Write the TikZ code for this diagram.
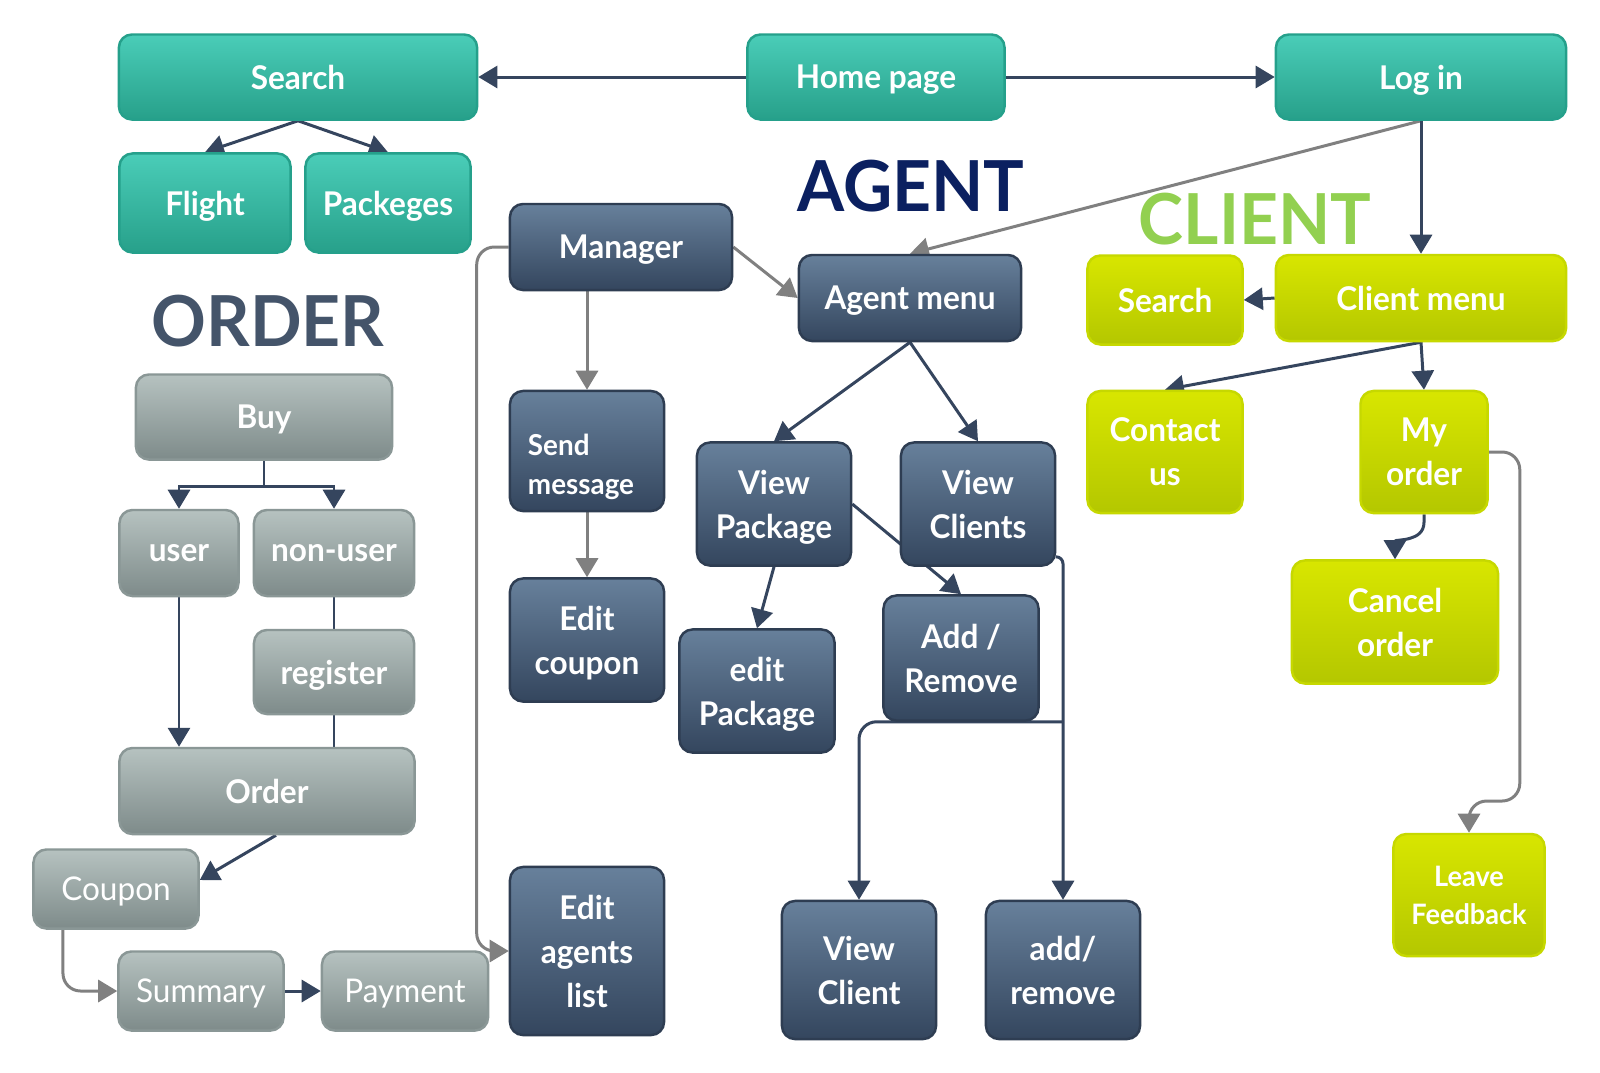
\documentclass[tikz,border=0pt]{standalone}
\usepackage{fontspec}
\setmainfont{Lato}[FakeStretch=0.965]
\usetikzlibrary{arrows.meta,positioning,calc,backgrounds}
\definecolor{tealtop}{HTML}{4ACDB8}
\definecolor{tealbot}{HTML}{27A08A}
\definecolor{tealedge}{HTML}{25A08B}
\definecolor{agttop}{HTML}{67809B}
\definecolor{agtbot}{HTML}{34465E}
\definecolor{agtedge}{HTML}{2E3D52}
\definecolor{clitop}{HTML}{D8E600}
\definecolor{clibot}{HTML}{B4C700}
\definecolor{cliedge}{HTML}{C6D800}
\definecolor{ordtop}{HTML}{B6C2C0}
\definecolor{ordbot}{HTML}{7E8B8A}
\definecolor{ordedge}{HTML}{8A9796}
\definecolor{linkdark}{HTML}{35455E}
\definecolor{linkgray}{HTML}{808080}
\definecolor{agentblue}{HTML}{0B2060}
\definecolor{clientgreen}{HTML}{92D050}
\definecolor{orderslate}{HTML}{44546A}
\tikzset{
  flowarr/.style={-{Triangle[length=1.9mm,width=2.2mm]}, line width=0.85pt, draw=linkdark},
  flowgray/.style={flowarr, draw=linkgray},
  flowline/.style={line width=0.85pt, draw=linkdark},
  flowbox/.style={draw, rounded corners=1.3mm, align=center, inner sep=0pt, line width=0.7pt, text=white, text depth=0pt, font=\fontsize{9.3}{12.5}\selectfont\bfseries},
  flowtitle/.style={font=\fontsize{20}{24}\selectfont\bfseries},
}

\begin{document}
\begin{tikzpicture}[
  x=0.01cm, y=-0.01cm,
  web/.style={flowbox, top color=tealtop, bottom color=tealbot, draw=tealedge},
  agt/.style={flowbox, top color=agttop, bottom color=agtbot, draw=agtedge},
  cli/.style={flowbox, top color=clitop, bottom color=clibot, draw=cliedge},
  ord/.style={flowbox, top color=ordtop, bottom color=ordbot, draw=ordedge},
  ordlite/.style={ord, font=\fontsize{9.3}{12.5}\selectfont},
  sz/.style 2 args={minimum width=#1cm, minimum height=#2cm},
]
  \useasboundingbox (0,0) rectangle (1600,1072);

  \node[web, sz={3.58}{0.85}] (srch) at (298,77) {Search};
  \node[web, sz={2.57}{0.85}] (home) at (876,77) {Home page};
  \node[web, sz={2.90}{0.85}] (login) at (1421,77) {Log in};
  \node[web, sz={1.71}{0.99}] (flight) at (205,203) {Flight};
  \node[web, sz={1.65}{0.99}] (pkgs) at (388,203) {Packeges};

  \node[flowtitle, text=agentblue] (tagent) at (911,186) {AGENT};
  \node[flowtitle, text=clientgreen] (tclient) at (1255,219) {CLIENT};
  \node[flowtitle, text=orderslate] (torder) at (268,321) {ORDER};

  \node[agt, sz={2.22}{0.86}] (mgr) at (621,247) {Manager};
  \node[agt, sz={2.22}{0.86}] (amenu) at (910,298) {Agent menu};
  \node[agt, sz={1.54}{1.20}, font=\fontsize{8.2}{11.1}\selectfont\bfseries, align=left, text width=1.18cm, text height=6pt, text depth=3.2pt] (sendmsg) at (587,451) {Send\\message};
  \node[agt, sz={1.54}{1.23}] (editcpn) at (587,640) {Edit\\coupon};
  \node[agt, sz={1.54}{1.68}] (editagt) at (587,951) {Edit\\agents\\list};
  \node[agt, sz={1.54}{1.23}] (viewpkg) at (774,504) {View\\Package};
  \node[agt, sz={1.54}{1.23}] (viewcls) at (978,504) {View\\Clients};
  \node[agt, sz={1.55}{1.23}] (editpkg) at (757,691) {edit\\Package};
  \node[agt, sz={1.55}{1.25}] (addrem) at (961,658) {Add /\\Remove};
  \node[agt, sz={1.54}{1.38}] (viewcl) at (859,970) {View\\Client};
  \node[agt, sz={1.54}{1.38}] (addrem2) at (1063,970) {add/\\remove};

  \node[cli, sz={1.55}{0.89}] (csrch) at (1165,300) {Search};
  \node[cli, sz={2.90}{0.86}] (cmenu) at (1421,298) {Client menu};
  \node[cli, sz={1.55}{1.22}] (contact) at (1165,452) {Contact\\us};
  \node[cli, sz={1.27}{1.22}] (myord) at (1424,452) {My\\order};
  \node[cli, sz={2.06}{1.23}] (cancel) at (1395,622) {Cancel\\order};
  \node[cli, sz={1.51}{1.22}, font=\fontsize{8}{10.7}\selectfont\bfseries] (feedback) at (1469,895) {Leave\\Feedback};

  \node[ord, sz={2.56}{0.85}] (buy) at (264,417) {Buy};
  \node[ord, sz={1.19}{0.86}] (user) at (179,553) {user};
  \node[ord, sz={1.60}{0.86}] (nonuser) at (334,553) {non-user};
  \node[ord, sz={1.60}{0.84}] (reg) at (334,672) {register};
  \node[ord, sz={2.95}{0.86}] (order) at (267,791) {Order};
  \node[ordlite, sz={1.65}{0.79}] (coupon) at (116,889) {Coupon};
  \node[ordlite, sz={1.65}{0.79}] (summary) at (201,991) {Summary};
  \node[ordlite, sz={1.66}{0.79}] (payment) at (405,991) {Payment};

  \begin{scope}[on background layer]
    \fill[white] (0,0) rectangle (1600,1072);
    \draw[flowarr] (home.west) -- (srch.east);
    \draw[flowarr] (home.east) -- (login.west);
    \draw[flowarr] (srch.south) -- (flight.north);
    \draw[flowarr] (srch.south) -- (pkgs.north);
    \draw[flowgray] (login.south) -- (amenu.north);
    \draw[flowarr] (login.south) -- (cmenu.north);
    \draw[flowarr] (cmenu.west) -- (csrch.east);
    \draw[flowarr] (cmenu.south) -- (contact.north);
    \draw[flowarr] (cmenu.south) -- (myord.north);
    \draw[flowarr] (myord.south) -- ++(0,8) .. controls +(0,20) and +(0,-20) .. (cancel.north);
    \draw[flowgray, rounded corners=5pt] (myord.east) -| ++(31,349) -| (feedback.north);
    \draw[flowgray] (mgr.east) -- (amenu.west);
    \draw[flowgray] (mgr.south -| sendmsg.north) -- (sendmsg.north);
    \draw[flowgray] (sendmsg.south) -- (editcpn.north);
    \draw[flowgray, rounded corners=5pt] (mgr.west) -- ++(-32,0) |- (editagt.west);
    \draw[flowarr] (amenu.south) -- (viewpkg.north);
    \draw[flowarr] (amenu.south) -- (viewcls.north);
    \draw[flowarr] (viewpkg.south) -- (editpkg.north);
    \draw[flowarr] (viewpkg.east) -- (addrem.north);
    \draw[flowarr, rounded corners=2pt] ([yshift=1mm]viewcls.south east) -| (addrem2.north);
    \draw[flowarr, rounded corners=5pt] (addrem2.north |- addrem.south) -| (viewcl.north);
    \draw[flowarr] (buy.south) -- ++(0,26) -| (user.north);
    \draw[flowarr] (buy.south) -- ++(0,26) -| (nonuser.north);
    \draw[flowarr] (user.south) -- (user.south |- order.north);
    \draw[flowline] (nonuser.south) -- (reg.north);
    \draw[flowline] (reg.south) -- (reg.south |- order.north);
    \draw[flowarr] ([xshift=0.9mm]order.south) -- ([yshift=0.9mm]coupon.east);
    \draw[flowgray, rounded corners=5pt] ([xshift=-5.3mm]coupon.south) |- (summary.west);
    \draw[flowarr] (summary.east) -- (payment.west);
  \end{scope}
\end{tikzpicture}
\end{document}
